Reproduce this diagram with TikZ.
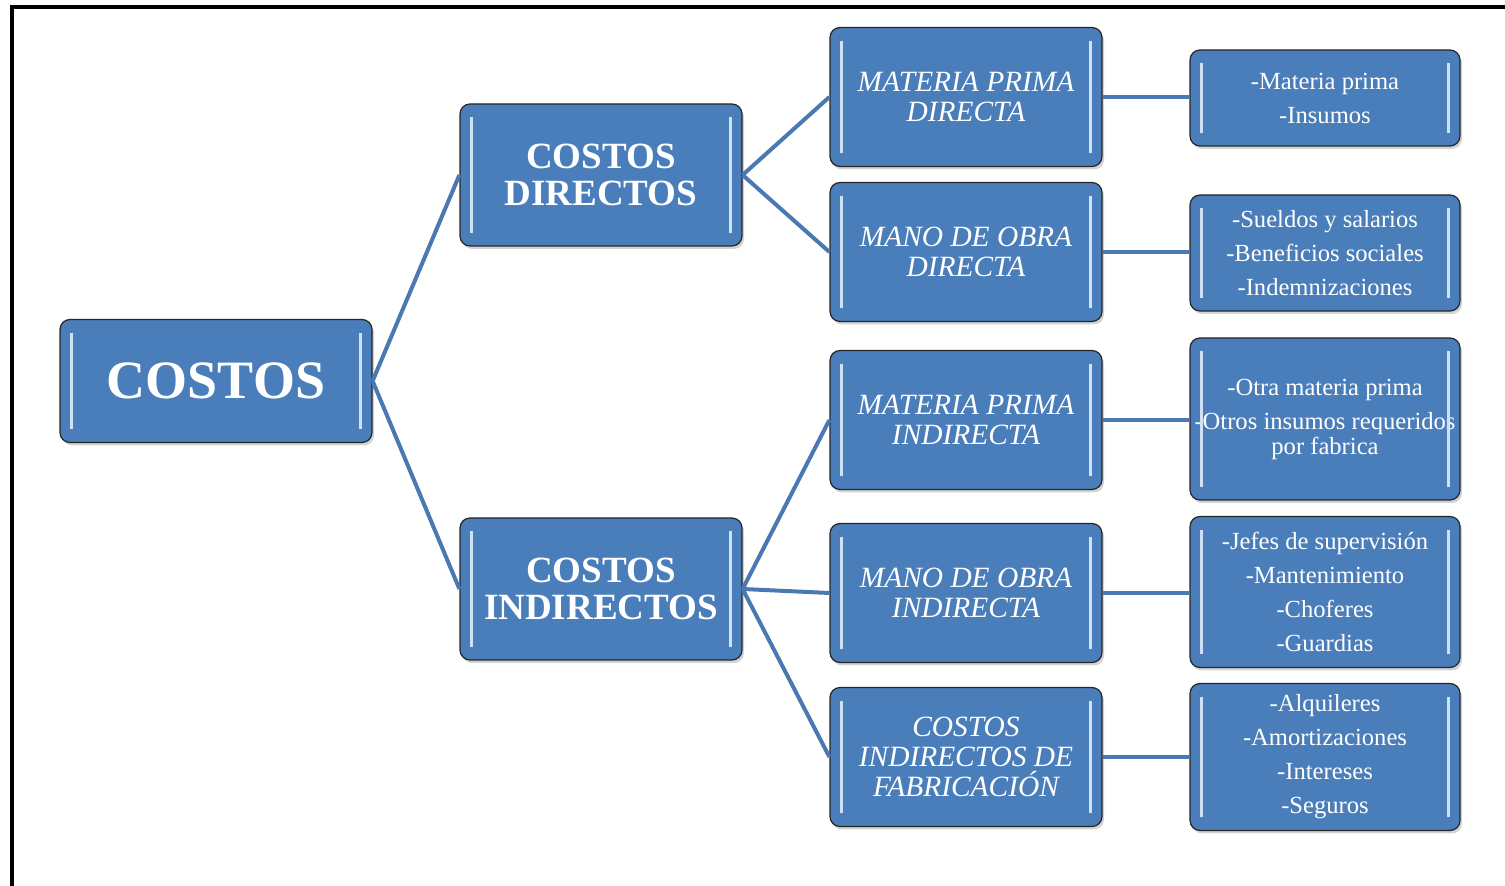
\documentclass[tikz,border=0pt]{standalone}
\usepackage{fontspec}
\setmainfont{Liberation Serif}
\usetikzlibrary{shadows}
\definecolor{azulcaja}{HTML}{4A7EBB}
\definecolor{azulrama}{HTML}{4A78B2}
\definecolor{brillo}{HTML}{CFE2F5}
\tikzset{
  caja/.style={draw=black!85, line width=0.6pt, fill=azulcaja, rounded corners=5pt,
    text=white, align=center, inner sep=0pt,
    drop shadow={opacity=0.35, shadow xshift=1pt, shadow yshift=-1.5pt}},
  raiz/.style={caja, minimum width=156pt, minimum height=61.5pt,
    font=\fontsize{27}{30}\selectfont\bfseries},
  grupo/.style={caja, minimum width=141pt, minimum height=71pt,
    font=\fontsize{18.5}{18.5}\selectfont\bfseries},
  tipo/.style={caja, minimum width=136pt, minimum height=69.5pt,
    font=\fontsize{14.7}{15}\selectfont\itshape},
  detalle/.style={caja, minimum width=135pt,
    font=\fontsize{12.3}{12.5}\selectfont},
  rama/.style={draw=azulrama, line width=2pt}
}
\begin{document}
\begin{tikzpicture}[x=0.5pt,y=-0.5pt]
	\useasboundingbox (0,0) rectangle (1505,886);
	\draw[line width=2pt] (12,886) -- (12,7) -- (1505,7);
	
	\node[raiz] (costos) at (216,381) {COSTOS};
	\node[grupo] (directos) at (601,175) {COSTOS\\DIRECTOS};
	\node[grupo] (indirectos) at (601,589) {COSTOS\\INDIRECTOS};
	
	\node[tipo] (mpd) at (966,97) {MATERIA PRIMA\\DIRECTA};
	\node[tipo] (mod) at (966,252) {MANO DE OBRA\\DIRECTA};
	\node[tipo] (mpi) at (966,420) {MATERIA PRIMA\\INDIRECTA};
	\node[tipo] (moi) at (966,593) {MANO DE OBRA\\INDIRECTA};
	\node[tipo] (cif) at (966,757) {COSTOS\\INDIRECTOS DE\\FABRICACIÓN};
	
	\node[detalle, minimum height=48pt] (dmpd) at (1325,98) {-Materia prima\\[4.5pt]-Insumos};
	\node[detalle, minimum height=58pt] (dmod) at (1325,253) {-Sueldos y salarios\\[4.5pt]-Beneficios sociales\\[4.5pt]-Indemnizaciones};
	\node[detalle, minimum height=81pt] (dmpi) at (1325,419) {-Otra materia prima\\[4.5pt]-Otros insumos requeridos\\por fabrica};
	\node[detalle, minimum height=75.5pt] (dmoi) at (1325,592) {-Jefes de supervisión\\[4.5pt]-Mantenimiento\\[4.5pt]-Choferes\\[4.5pt]-Guardias};
	\node[detalle, minimum height=73.5pt] (dcif) at (1325,757) {-Alquileres\\[4.5pt]-Amortizaciones\\[4.5pt]-Intereses\\[4.5pt]-Seguros};
	
	% brillos laterales
	\foreach \n in {costos,directos,indirectos,mpd,mod,mpi,moi,cif,dmpd,dmod,dmpi,dmoi,dcif}{
		\draw[brillo, line width=1.6pt] ([shift={(6pt,-7pt)}]\n.north west) -- ([shift={(6pt,7pt)}]\n.south west);
		\draw[brillo, line width=1.6pt] ([shift={(-6pt,-7pt)}]\n.north east) -- ([shift={(-6pt,7pt)}]\n.south east);
	}
	
	\draw[rama] (costos.east) -- (directos.west);
	\draw[rama] (costos.east) -- (indirectos.west);
	\foreach \t in {mpd,mod}
		\draw[rama] (directos.east) -- (\t.west);
	\foreach \t in {mpi,moi,cif}
		\draw[rama] (indirectos.east) -- (\t.west);
	\foreach \t in {mpd,mod,mpi,moi,cif}
		\draw[rama] (\t.east) -- (\t.east -| d\t.west);
\end{tikzpicture}
\end{document}
